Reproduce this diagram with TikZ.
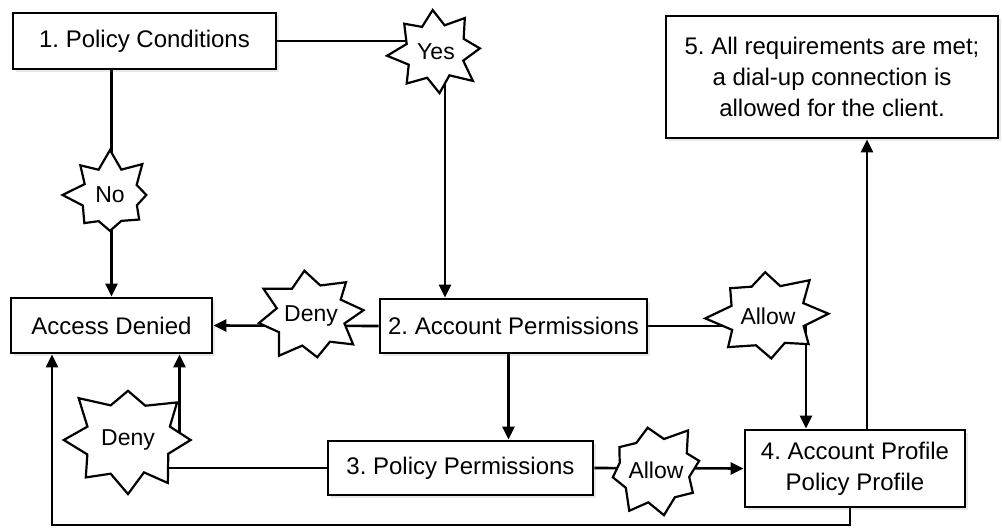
\documentclass[tikz,border=0pt]{standalone}
\usepackage{fontspec}
\setmainfont{Liberation Sans}
\frenchspacing
\usetikzlibrary{arrows.meta,backgrounds,shadows}
% name, position, rx, ry, rotation, seed, text
\newcommand\burstnode[7]{%
  \pgfmathsetseed{#6}%
  \draw[burstline, shift={(#2)}] plot[samples at={0,...,15}, variable=\k]
    ({(mod(\k,2)==0 ? 0.87+0.13*rand : 0.6+0.03*rand)*#3*cos(#5+\k*22.5)},
     {(mod(\k,2)==0 ? 0.87+0.13*rand : 0.6+0.03*rand)*#4*sin(#5+\k*22.5)}) -- cycle;
  \node[bursttext] (#1) at (#2) {#7};}
\begin{document}
\begin{tikzpicture}[x=1pt,y=1pt,
  font=\fontsize{24}{31}\selectfont,
  box/.style={draw, line width=2.8pt, fill=white, inner sep=0pt, align=center,
    drop shadow={opacity=0.18, shadow xshift=3pt, shadow yshift=-3pt}},
  burstline/.style={draw, line width=2.2pt, fill=white, line join=miter},
  bursttext/.style={inner sep=0pt, font=\fontsize{23}{28}\selectfont},
  conn/.style={line width=2.6pt},
  arr/.style={conn, -{Triangle[length=13pt,width=12pt]}}
]
\useasboundingbox (0,0) rectangle (1003,528);
% boxes
\node[box, minimum width=263pt, minimum height=56pt] (p1) at (144.5,487) {1. Policy Conditions};
\node[box, minimum width=332pt, minimum height=122pt] (p5) at (832,451) {5. All requirements are met;\\a dial-up connection is\\allowed for the client.};
\node[box, minimum width=201pt, minimum height=55pt] (ad) at (111.5,202.5) {Access Denied};
\node[box, minimum width=267pt, minimum height=54pt] (p2) at (513.5,202) {2. Account Permissions};
\node[box, minimum width=265pt, minimum height=54pt] (p3) at (460.5,60) {3. Policy Permissions};
\node[box, minimum width=220pt, minimum height=77pt] (p4) at (855,59.5) {4. Account Profile\\Policy Profile};
% starbursts
\burstnode{yes}{436,476}{50}{46}{5}{11}{Yes}
\burstnode{no}{110,333}{48}{46}{0}{23}{No}
\burstnode{deny1}{311,212}{60}{52}{8}{37}{Deny}
\burstnode{allow1}{768,212}{63}{52}{3}{41}{Allow}
\burstnode{allow2}{656,58}{59}{53}{10}{53}{Allow}
\burstnode{deny2}{128,88}{72}{61}{0}{67}{Deny}
\coordinate (cB) at (52,3);
% connectors
\begin{scope}[on background layer]
\draw[conn] (p1.east) -- (p1.east -| yes.center);
\draw[arr] ([xshift=9pt]yes.center) -- ([xshift=9pt]yes.center |- p2.north);
\draw[arr] (ad.north |- p1.south) -- (ad.north);
\draw[arr] (p2.west) -- (ad.east);
\draw[arr] (p2.east) -| ([xshift=-49pt]p4.north);
\draw[arr] ([xshift=-5pt]p2.south) -- ([xshift=-5pt]p2.south |- p3.north);
\draw[arr] (p3.east) -- (p4.west);
\draw[arr] ([xshift=12pt]p4.north) -- ([xshift=12pt]p4.north |- p5.south);
\draw[conn] (p3.west) -- (p3.west -| deny2.center);
\draw[arr] ([xshift=68pt]ad.south |- deny2.center) -- ([xshift=68pt]ad.south);
\draw[arr] ([xshift=-5pt]p4.south) |- (cB) -- (cB |- ad.south);
\end{scope}
\end{tikzpicture}
\end{document}
